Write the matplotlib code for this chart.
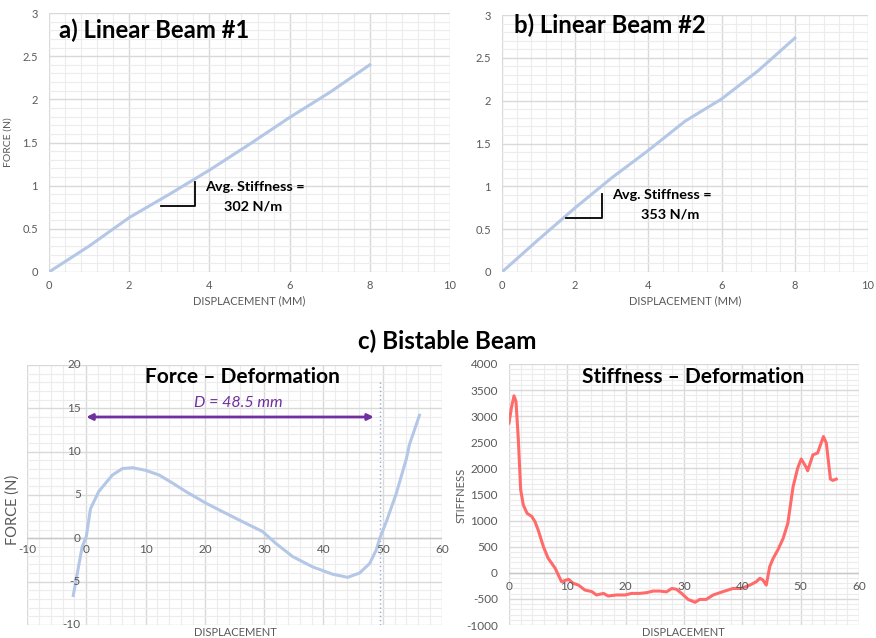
import matplotlib
matplotlib.use("Agg")
import matplotlib.pyplot as plt
from matplotlib.ticker import MultipleLocator
import numpy as np

plt.rcParams['font.family'] = ['Lato', 'DejaVu Sans']

# ---------------- data ----------------
beam1_disp = [0, 1, 2, 3, 4, 5, 6, 7, 8]
beam1_force = [0, 0.30, 0.63, 0.90, 1.18, 1.48, 1.79, 2.08, 2.40]

beam2_disp = [0, 1, 2, 3, 4, 5, 6, 7, 8]
beam2_force = [0, 0.38, 0.75, 1.10, 1.42, 1.76, 2.02, 2.35, 2.73]

bi_disp = [-2.2, -0.7, 0, 0.7, 2.1, 4.4, 6.1, 7.8, 10, 12.3, 14.5, 16.8, 20.2, 23.5,
           27, 29.7, 32, 34.8, 38.2, 41.6, 44.1, 46.1, 47.8, 48.9, 49.5, 50.6, 52.3,
           54, 54.5, 56.2]
bi_force = [-6.6, -1.0, 0.2, 3.4, 5.4, 7.3, 8.05, 8.15, 7.85, 7.3, 6.4, 5.4, 4.05,
            2.9, 1.7, 0.8, -0.6, -2.1, -3.3, -4.15, -4.5, -4.0, -2.9, -1.35, 0.0,
            1.9, 5.2, 9.2, 10.8, 14.2]

st_disp = [0, 0.46, 0.86, 1.2, 1.6, 2.0, 2.45, 3.1, 3.9, 4.45, 5.0, 5.9, 6.7, 7.9,
           9.0, 10.2, 11, 11.9, 13, 14.2, 15, 16.2, 17, 18.4, 19.9, 21, 22.4, 23.6,
           24.7, 25.9, 27, 27.9, 28.7, 29.6, 30.7, 31.9, 32.7, 33.8, 35, 36.7, 38.4,
           39.8, 41.3, 42.4, 43, 43.5, 44.1, 44.7, 45.3, 46.1, 47, 47.8, 48.7, 49.5,
           50.1, 51, 51.2, 52.1, 52.9, 53.9, 54.4, 55.1, 55.5, 56.1]
st_val = [2870, 3190, 3390, 3280, 2550, 1590, 1300, 1140, 1080, 980, 820, 500, 280,
          90, -170, -125, -200, -235, -330, -360, -425, -395, -445, -425, -425, -395,
          -395, -380, -350, -350, -365, -300, -315, -395, -510, -565, -510, -510,
          -425, -360, -300, -300, -235, -170, -105, -135, -235, 120, 280, 440, 660,
          950, 1650, 2010, 2180, 2010, 1955, 2260, 2295, 2610, 2485, 1795, 1770, 1795]

D_value = 48.5
D_line_x = 49.5

# ---------------- styling ----------------
W, H = 876, 638
fig = plt.figure(figsize=(W / 100, H / 100), dpi=100)

TICK_C = '#595959'
MAJ_C = '#d9d9d9'
MIN_C = '#ececec'
LINE_BLUE = '#b4c7e7'
RED = '#ff6b6b'
PURPLE = '#7030a0'


def ax_at(x0, y0, x1, y1):
    # pixel box (left, top, right, bottom)
    return fig.add_axes([x0 / W, 1 - y1 / H, (x1 - x0) / W, (y1 - y0) / H])


def style(ax, xmaj, xmin, ymaj, ymin, fs=8):
    ax.xaxis.set_major_locator(MultipleLocator(xmaj))
    ax.xaxis.set_minor_locator(MultipleLocator(xmin))
    ax.yaxis.set_major_locator(MultipleLocator(ymaj))
    ax.yaxis.set_minor_locator(MultipleLocator(ymin))
    ax.grid(which='major', color=MAJ_C, lw=1.0, zorder=0)
    ax.grid(which='minor', color=MIN_C, lw=0.8, zorder=0)
    ax.set_axisbelow(True)
    for s in ax.spines.values():
        s.set_visible(False)
    ax.tick_params(which='both', length=0, labelsize=fs, labelcolor=TICK_C)
    ax.tick_params(axis='x', pad=6)
    ax.tick_params(axis='y', pad=8)


def fmt(v):
    return '%g' % v


# ---------- panel a ----------
axa = ax_at(49, 13, 450, 272)
axa.plot(beam1_disp, beam1_force, color=LINE_BLUE, lw=2.2, zorder=3)
axa.set_xlim(0, 10)
axa.set_ylim(0, 3)
style(axa, 2, 0.4, 0.5, 0.1)
axa.set_xticks([0, 2, 4, 6, 8, 10])
axa.set_xticklabels([fmt(v) for v in [0, 2, 4, 6, 8, 10]])
axa.set_yticks([0, 0.5, 1, 1.5, 2, 2.5, 3])
axa.set_yticklabels([fmt(v) for v in [0, 0.5, 1, 1.5, 2, 2.5, 3]])
axa.set_xlabel('DISPLACEMENT (MM)', fontsize=8, color=TICK_C, labelpad=3)
axa.set_ylabel('FORCE (N)', fontsize=7.5, color=TICK_C)
axa.yaxis.set_label_coords(-0.09, 0.5)
axa.text(0.25, 2.80, 'a) Linear Beam #1', fontsize=17.2, fontweight='bold', va='center', ha='left')
axa.plot([2.8, 3.65, 3.65], [0.77, 0.77, 1.04], color='black', lw=1.3, zorder=4)
axa.text(3.88, 0.99, 'Avg. Stiffness =', fontsize=10.4, fontweight='bold', va='center', ha='left')
axa.text(5.1, 0.76, '302 N/m', fontsize=10.4, fontweight='bold', va='center', ha='center')

# ---------- panel b ----------
axb = ax_at(502, 15, 868, 272)
axb.plot(beam2_disp, beam2_force, color=LINE_BLUE, lw=2.2, zorder=3)
axb.set_xlim(0, 10)
axb.set_ylim(0, 3)
style(axb, 2, 0.4, 0.5, 0.1)
axb.set_xticks([0, 2, 4, 6, 8, 10])
axb.set_xticklabels([fmt(v) for v in [0, 2, 4, 6, 8, 10]])
axb.set_yticks([0, 0.5, 1, 1.5, 2, 2.5, 3])
axb.set_yticklabels([fmt(v) for v in [0, 0.5, 1, 1.5, 2, 2.5, 3]])
axb.set_xlabel('DISPLACEMENT (MM)', fontsize=8, color=TICK_C, labelpad=3)
axb.text(0.34, 2.88, 'b) Linear Beam #2', fontsize=17.2, fontweight='bold', va='center', ha='left')
axb.plot([1.75, 2.73, 2.73], [0.63, 0.63, 0.91], color='black', lw=1.3, zorder=4)
axb.text(3.0, 0.90, 'Avg. Stiffness =', fontsize=10.4, fontweight='bold', va='center', ha='left')
axb.text(4.6, 0.67, '353 N/m', fontsize=10.4, fontweight='bold', va='center', ha='center')

# ---------- section title ----------
fig.text(447 / W, 1 - 341 / H, 'c) Bistable Beam', fontsize=17.5, fontweight='bold',
         ha='center', va='center')

# ---------- panel c left ----------
axc = ax_at(27, 365, 442, 625)
axc.plot(bi_disp, bi_force, color=LINE_BLUE, lw=2.2, zorder=3)
axc.set_xlim(-10, 60)
axc.set_ylim(-10, 20)
style(axc, 10, 2, 5, 1)
axc.axhline(0, color='#c8c8c8', lw=1.0, zorder=1)
axc.tick_params(which='both', labelbottom=False, labelleft=False, length=0)
for v in [-10, 0, 10, 20, 30, 40, 50, 60]:
    axc.annotate(fmt(v), xy=(v, 0), xytext=(0, -4), textcoords='offset points',
                 ha='center', va='top', fontsize=8.5, color=TICK_C)
for v in [-10, -5, 0, 5, 10, 15, 20]:
    axc.annotate(fmt(v), xy=(0, v), xytext=(-4, 0), textcoords='offset points',
                 ha='right', va='center', fontsize=8.5, color=TICK_C)
axc.axvline(D_line_x, ymin=0, ymax=(18 + 10) / 30, color='#8faadc', lw=1.0,
            ls=(0, (1, 2)), zorder=2)
axc.annotate('', xy=(0, 14), xytext=(D_value, 14),
             arrowprops=dict(arrowstyle='<|-|>', color=PURPLE, lw=2.0,
                             mutation_scale=9, shrinkA=0, shrinkB=0), zorder=4)
axc.text(25.7, 15.65, 'D = 48.5 mm', fontsize=11.5, fontstyle='italic', color=PURPLE,
         ha='center', va='center')
axc.text(26.3, 18.6, 'Force \u2013 Deformation', fontsize=15, fontweight='bold',
         ha='center', va='center')
fig.text(13 / W, 1 - 510 / H, 'FORCE (N)', rotation=90, fontsize=10.5, color=TICK_C,
         ha='center', va='center')
fig.text(235 / W, 1 - 633 / H, 'DISPLACEMENT', fontsize=8, color=TICK_C,
         ha='center', va='center')

# ---------- panel c right ----------
axd = ax_at(509, 364, 859, 625)
axd.plot(st_disp, st_val, color=RED, lw=2.2, zorder=3)
axd.set_xlim(0, 60)
axd.set_ylim(-1000, 4000)
style(axd, 10, 2, 500, 100)
axd.axhline(0, color='#c8c8c8', lw=1.0, zorder=1)
axd.tick_params(which='both', labelbottom=False, length=0, labelsize=8.5,
                labelcolor=TICK_C, pad=8)
axd.set_yticks([-1000, -500, 0, 500, 1000, 1500, 2000, 2500, 3000, 3500, 4000])
axd.set_yticklabels([fmt(v) for v in [-1000, -500, 0, 500, 1000, 1500, 2000, 2500,
                                        3000, 3500, 4000]])
for v in [0, 10, 20, 30, 40, 50, 60]:
    axd.annotate(fmt(v), xy=(v, 0), xytext=(0, -6), textcoords='offset points',
                 ha='center', va='top', fontsize=8.5, color=TICK_C)
axd.text(31.6, 3750, 'Stiffness \u2013 Deformation', fontsize=15, fontweight='bold',
         ha='center', va='center')
fig.text(461 / W, 1 - 495 / H, 'STIFFNESS', rotation=90, fontsize=8, color=TICK_C,
         ha='center', va='center')
fig.text(683 / W, 1 - 633 / H, 'DISPLACEMENT', fontsize=8, color=TICK_C,
         ha='center', va='center')

fig.savefig('out.png', dpi=100)
